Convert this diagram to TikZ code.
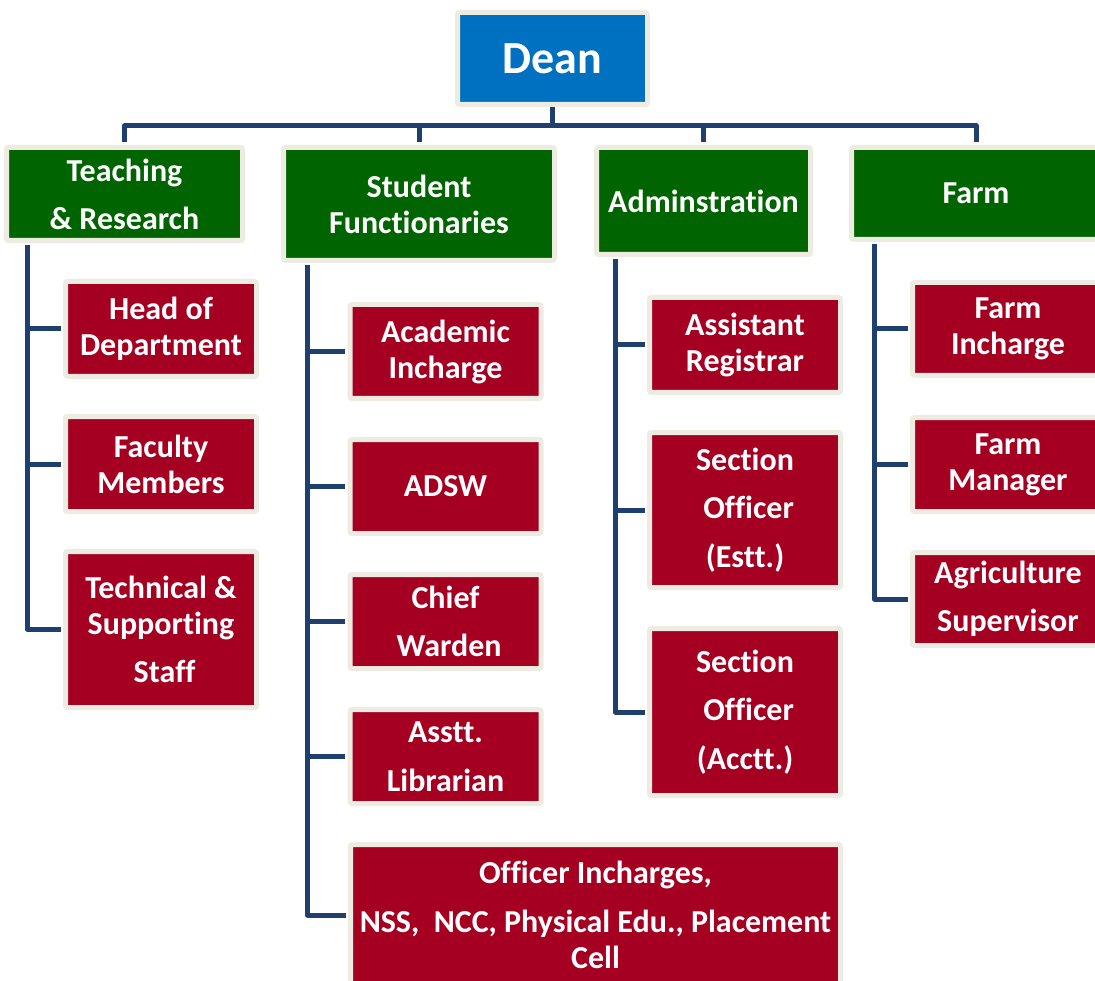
\documentclass[tikz,border=0pt]{standalone}
\usepackage{fontspec}
\setmainfont{Carlito}[Ligatures=NoCommon]
\usepackage{tikz}
\usepackage{xcolor}
\usetikzlibrary{calc}
\definecolor{deanblue}{HTML}{0070C0}
\definecolor{headgreen}{HTML}{006400}
\definecolor{unitred}{HTML}{A50021}
\definecolor{rimcream}{HTML}{EEECE1}
\definecolor{linknavy}{HTML}{1F406E}
\tikzset{every picture/.style={x=1pt,y=-1pt}}
\tikzstyle{base_box} =
  [ rectangle
  , rounded corners=2pt
  , draw=rimcream
  , line width=5pt
  , text=white
  , align=center
  , inner sep=0pt
  , font=\fontsize{32}{36}\selectfont\bfseries
  ]
\tikzstyle{dean_box} =
  [ base_box
  , fill=deanblue
  , font=\fontsize{46}{50}\selectfont\bfseries
  ]
\tikzstyle{head_box} =
  [ base_box
  , fill=headgreen
  ]
\tikzstyle{unit_box} =
  [ base_box
  , fill=unitred
  , minimum width=191pt
  ]
\tikzstyle{link} =
  [ draw=linknavy
  , line width=5pt
  , line join=round
  , shorten >=2.5pt
  ]

\begin{document}
\begin{tikzpicture}
    \useasboundingbox (0,0) rectangle (1095,981);

    \node[dean_box, minimum width=190pt, minimum height=92pt] (dean) at (552.5, 58.5) {Dean};

    \node[head_box, minimum width=236pt, minimum height=93pt]  (teaching)   at (124.5, 194)   {Teaching\\[12pt]\& Research};
    \node[head_box, minimum width=271pt, minimum height=113pt] (student)    at (419, 204)     {Student\\Functionaries};
    \node[head_box, minimum width=214pt, minimum height=107pt] (admin)      at (703.5, 201)   {Adminstration};
    \node[head_box, minimum width=249pt, minimum height=92pt]  (farm)       at (976, 193.5)   {Farm};

    % dean to the four heads
    \draw[link, shorten >=0pt] (dean.south) -- ++(0,19) coordinate (bus);
    \foreach \h in {teaching, student, admin, farm}
      \draw[link] (bus) -| (\h.north);

    % teaching & research
    \node[unit_box, minimum height=95pt]  (head_dept)   at (161, 329)   {Head of\\Department};
    \node[unit_box, minimum height=95pt]  (faculty)     at (161, 464)   {Faculty\\Members};
    \node[unit_box, minimum height=156pt] (tech_staff)  at (161, 629.5) {Technical \&\\Supporting\\[12pt]\ Staff};
    \draw[link, shorten >=0pt, shorten <=2.5pt] ([xshift=23.5pt]teaching.south west) coordinate (teach_spine) |- ([xshift=-2.5pt]tech_staff.west);
    \foreach \u in {head_dept, faculty}
      \draw[link] (\u.west -| teach_spine) -- (\u.west);

    % student functionaries
    \node[unit_box, minimum height=94pt]  (academic)    at (445.5, 351.5) {Academic\\Incharge};
    \node[unit_box, minimum height=94pt]  (adsw)        at (445.5, 486.5) {ADSW};
    \node[unit_box, minimum height=94pt]  (warden)      at (445.5, 621.5) {Chief\\[12.5pt]\ Warden};
    \node[unit_box, minimum height=94pt]  (librarian)   at (445.5, 756.5) {Asstt.\\[12.5pt]Librarian};
    \node[unit_box, minimum width=490pt, minimum height=141pt] (officer_incharges) at (595.5, 915)
      {Officer Incharges,\\[12.5pt]NSS,\ \ NCC, Physical Edu., Placement\\Cell};
    \draw[link, shorten >=0pt, shorten <=2.5pt] ([xshift=26.5pt]student.south west) coordinate (stud_spine) |- ([xshift=-2.5pt]officer_incharges.west);
    \foreach \u in {academic, adsw, warden, librarian}
      \draw[link] (\u.west -| stud_spine) -- (\u.west);

    % administration
    \node[unit_box, minimum height=95pt]  (asst_registrar) at (745, 345) {Assistant\\Registrar};
    \node[unit_box, minimum height=155pt] (section_estt)   at (745, 510) {Section\\[12.5pt]\ Officer\\[12.5pt](Estt.)};
    \node[unit_box, minimum height=167pt] (section_acctt)  at (745, 712) {Section\\[12.5pt]\ Officer\\[12.5pt](Acctt.)};
    \draw[link, shorten >=0pt, shorten <=2.5pt] ([xshift=21.5pt]admin.south west) coordinate (admin_spine) |- ([xshift=-2.5pt]section_acctt.west);
    \foreach \u in {asst_registrar, section_estt}
      \draw[link] (\u.west -| admin_spine) -- (\u.west);

    % farm
    \node[unit_box, minimum height=93pt]  (farm_incharge)  at (1008, 329)   {Farm\\Incharge};
    \node[unit_box, minimum height=94pt]  (farm_manager)   at (1008, 464.5) {Farm\\Manager};
    \node[unit_box, minimum height=93pt]  (agri_super)     at (1008, 599)   {Agriculture\\[12.5pt]Supervisor};
    \draw[link, shorten >=0pt, shorten <=2.5pt] ([xshift=25.5pt]farm.south west) coordinate (farm_spine) |- ([xshift=-2.5pt]agri_super.west);
    \foreach \u in {farm_incharge, farm_manager}
      \draw[link] (\u.west -| farm_spine) -- (\u.west);
  \end{tikzpicture}
\end{document}
